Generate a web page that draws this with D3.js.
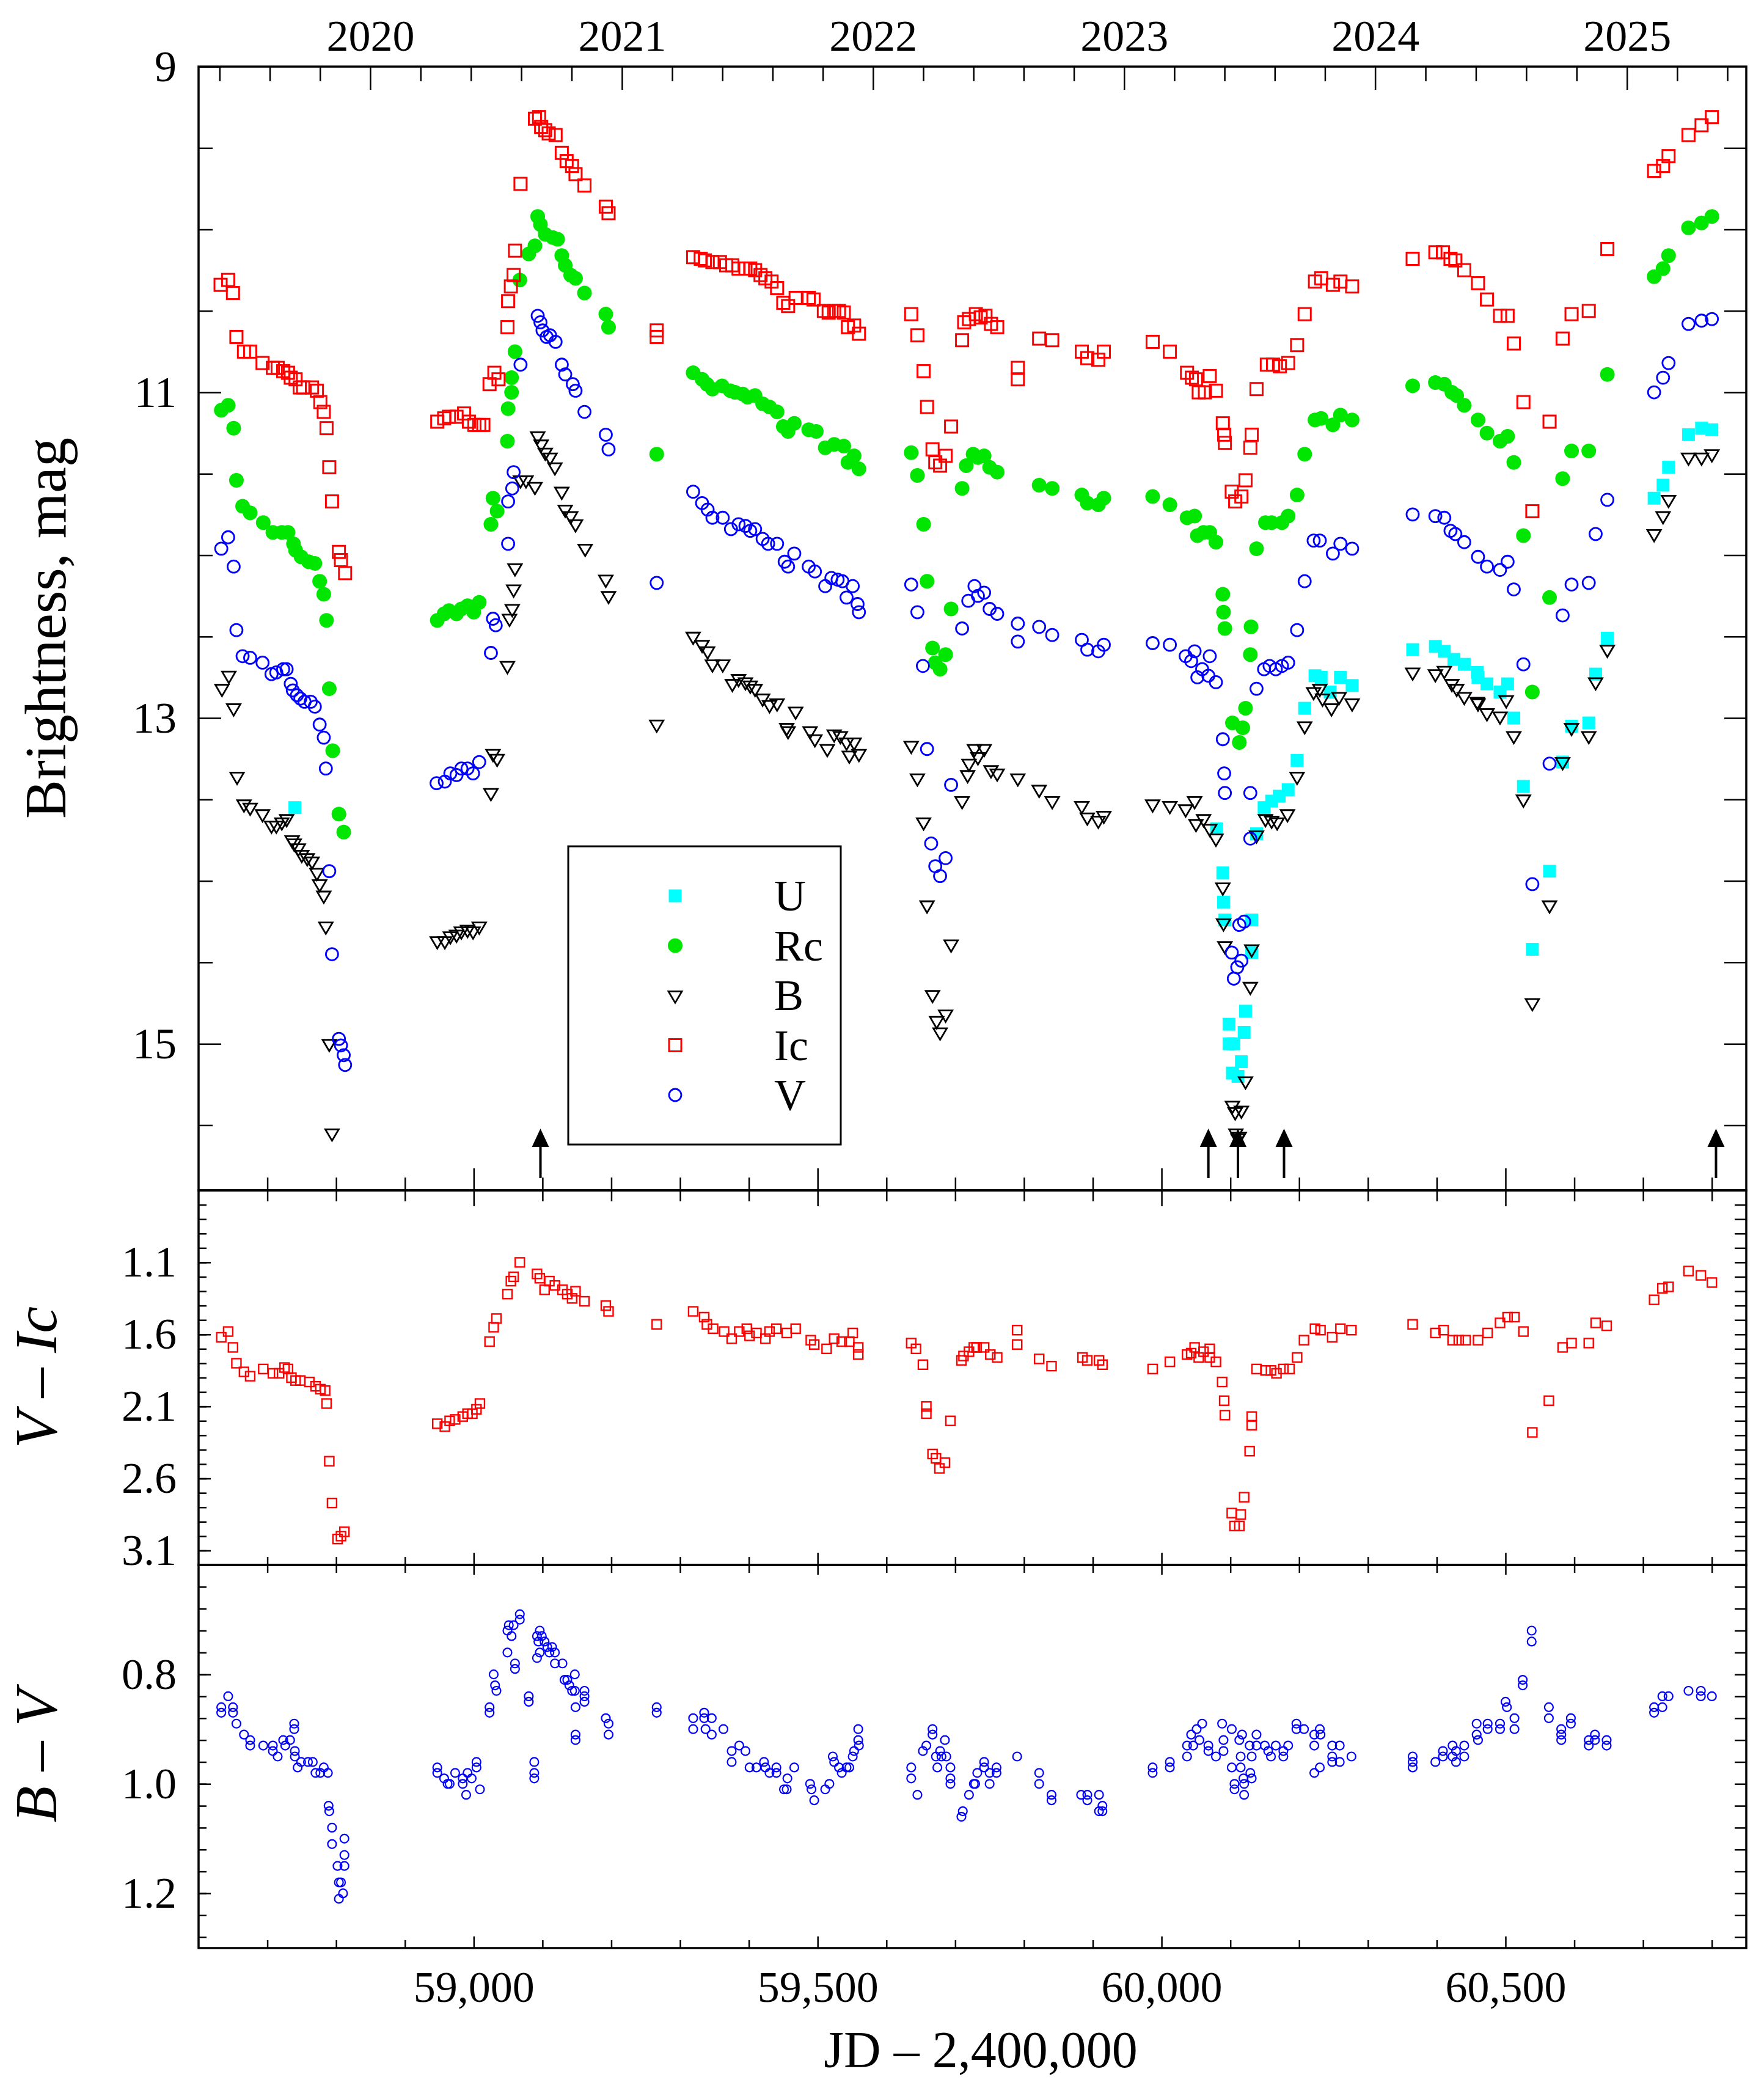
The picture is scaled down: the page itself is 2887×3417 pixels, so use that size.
<!DOCTYPE html>
<html>
<head>
<meta charset="utf-8">
<script src="https://cdn.jsdelivr.net/npm/d3@7"></script>
<style>
  body { margin: 0; background: #fff; }
</style>
</head>
<body>
<div id="main"></div>
<script>
/// photometry, JD - 2400000 and magnitude ///
const bandU = [[58740,13.55],
  [60080,13.68],[60089,13.95],[60090,14.13],[60092,14.24],[60098,14.88],[60098,15.00],[60103,15.18],[60105,15.00],[60111,15.20],[60116,15.11],[60120,14.93],[60122,14.80],[60131,14.24],[60131,14.44],[60138,13.71],[60149,13.55],[60160,13.51],[60171,13.48],[60184,13.44],[60197,13.26],[60208,12.94],[60223,12.74],[60232,12.75],[60245,12.84],[60260,12.75],[60277,12.80],
  [60365,12.58],[60398,12.56],[60411,12.59],[60425,12.64],[60440,12.67],[60459,12.72],[60460,12.75],[60473,12.79],[60492,12.84],[60503,12.79],[60512,13.00],[60526,13.42],[60539,14.42],[60564,13.94],[60583,13.27],[60596,13.05],[60621,13.03],[60631,12.73],[60648,12.51],[60716,11.65],[60729,11.57],[60737,11.46],[60766,11.26],[60785,11.22],[60800,11.23]];

const bandRc = [[58633,11.11],[58643,11.08],[58651,11.22],[58655,11.54],[58664,11.70],[58675,11.74],[58694,11.80],[58708,11.86],[58721,11.86],[58730,11.86],[58738,11.93],[58741,11.97],[58749,12.01],[58760,12.04],[58769,12.05],[58776,12.16],[58782,12.24],[58786,12.40],[58790,12.82],[58795,13.20],[58804,13.59],[58811,13.70],
  [58947,12.40],[58957,12.36],[58964,12.34],[58975,12.36],[58982,12.33],[58991,12.31],[59000,12.35],[59008,12.29],
  [59025,11.81],[59028,11.65],[59034,11.73],[59049,11.30],[59050,11.10],[59055,11.00],[59055,10.91],[59060,10.75],[59067,10.31],[59080,10.15],[59089,10.10],
  [59093,9.92],[59097,9.97],[59104,10.03],[59115,10.05],[59122,10.06],[59128,10.16],[59133,10.22],[59141,10.28],[59148,10.30],[59161,10.39],[59192,10.52],[59196,10.60],
  [59266,11.38],
  [59319,10.88],[59332,10.92],[59339,10.95],[59347,10.98],[59361,10.96],[59373,10.99],[59380,11.00],[59391,11.01],[59398,11.03],[59409,11.02],[59420,11.07],[59430,11.09],[59441,11.12],[59450,11.21],[59457,11.24],[59466,11.19],[59487,11.23],[59498,11.24],[59511,11.34],[59524,11.32],[59538,11.33],[59544,11.43],[59553,11.39],[59560,11.47],
  [59636,11.37],[59645,11.51],[59654,11.81],[59659,12.16],[59667,12.57],[59671,12.66],[59678,12.70],[59686,12.61],[59694,12.33],[59710,11.59],[59716,11.45],[59726,11.38],[59733,11.40],[59742,11.39],[59750,11.46],[59761,11.49],
  [59822,11.57],[59841,11.59],[59884,11.63],[59892,11.68],[59908,11.69],[59916,11.65],
  [59987,11.64],[60012,11.69],[60037,11.77],[60048,11.76],[60052,11.88],[60061,11.86],[60070,11.86],[60079,11.92],[60089,12.24],[60090,12.35],[60092,12.45],[60103,13.03],[60113,13.15],[60118,13.06],[60122,12.94],[60129,12.61],[60130,12.44],[60138,11.96],[60151,11.80],[60160,11.80],[60175,11.80],[60184,11.76],[60197,11.63],[60208,11.38],[60223,11.17],[60232,11.16],[60249,11.20],[60260,11.14],[60277,11.17],
  [60365,10.96],[60398,10.94],[60411,10.95],[60422,11.00],[60429,11.02],[60440,11.08],[60460,11.17],[60473,11.25],[60492,11.30],[60503,11.27],[60512,11.43],[60526,11.88],[60539,12.84],[60564,12.26],[60583,11.53],[60596,11.36],[60621,11.36],[60648,10.89],[60716,10.29],[60729,10.24],[60737,10.16],[60766,9.99],[60785,9.96],[60800,9.92]];

const bandB = [[58634,12.82],[58644,12.74],[58651,12.94],[58656,13.36],[58666,13.53],[58675,13.55],[58693,13.59],[58706,13.66],[58713,13.66],[58721,13.64],[58728,13.62],[58736,13.75],[58739,13.77],[58745,13.80],[58750,13.84],[58758,13.86],[58765,13.88],[58772,13.95],[58776,14.02],[58782,14.09],[58785,14.28],[58790,15.00],[58794,15.55],
  [58947,14.37],[58958,14.37],[58966,14.34],[58975,14.33],[58982,14.31],[58991,14.30],[58999,14.31],[59008,14.28],
  [59025,13.46],[59028,13.22],[59034,13.25],[59049,12.68],[59052,12.39],[59056,12.33],[59058,12.21],[59060,12.08],[59068,11.54],[59076,11.54],[59089,11.58],
  [59093,11.27],[59098,11.32],[59104,11.37],[59111,11.40],[59118,11.46],[59128,11.61],[59133,11.72],[59141,11.76],[59148,11.81],[59162,11.96],[59192,12.15],[59196,12.25],
  [59266,13.04],
  [59319,12.50],[59332,12.55],[59340,12.59],[59347,12.67],[59362,12.67],[59376,12.79],[59385,12.76],[59395,12.78],[59402,12.80],[59409,12.82],[59420,12.88],[59430,12.92],[59441,12.91],[59455,13.06],[59457,13.08],[59468,12.96],[59489,13.08],[59496,13.13],[59514,13.19],[59524,13.10],[59533,13.11],[59542,13.15],[59546,13.23],[59553,13.15],[59560,13.22],
  [59636,13.17],[59645,13.37],[59654,13.64],[59659,14.15],[59667,14.70],[59673,14.86],[59678,14.93],[59686,14.82],[59694,14.39],[59710,13.51],[59718,13.35],[59720,13.28],[59728,13.19],[59733,13.24],[59742,13.19],[59752,13.32],[59761,13.34],
  [59791,13.37],[59822,13.44],[59841,13.51],[59884,13.54],[59892,13.61],[59908,13.63],[59916,13.60],
  [59987,13.53],[60012,13.54],[60035,13.56],[60048,13.51],[60050,13.65],[60061,13.62],[60070,13.68],[60079,13.74],[60089,14.04],[60090,14.26],[60092,14.40],[60103,15.38],[60107,15.42],[60108,15.55],[60111,15.58],[60113,15.57],[60116,15.41],[60122,15.23],[60129,14.65],[60131,14.42],[60138,13.72],[60151,13.62],[60160,13.63],[60168,13.64],[60183,13.59],[60197,13.36],[60208,13.05],[60221,12.84],[60230,12.82],[60234,12.88],[60247,12.94],[60258,12.87],[60277,12.91],
  [60365,12.72],[60398,12.73],[60411,12.71],[60422,12.79],[60429,12.82],[60440,12.87],[60459,12.90],[60460,12.91],[60473,12.97],[60492,12.99],[60501,12.89],[60512,13.11],[60526,13.50],[60539,14.75],[60564,14.15],[60583,13.27],[60596,13.06],[60621,13.11],[60631,12.78],[60648,12.58],[60716,11.87],[60729,11.76],[60737,11.66],[60766,11.40],[60785,11.40],[60800,11.38]];

const bandIc = [[58632,10.34],[58643,10.31],[58650,10.39],[58655,10.66],[58666,10.75],[58675,10.75],[58693,10.82],[58708,10.85],[58715,10.85],[58723,10.87],[58730,10.88],[58734,10.91],[58741,10.92],[58747,10.97],[58752,10.97],[58765,10.97],[58772,10.99],[58777,11.06],[58782,11.12],[58786,11.22],[58790,11.46],[58794,11.67],[58804,11.98],[58807,12.03],[58813,12.11],
  [58947,11.18],[58957,11.16],[58964,11.15],[58975,11.15],[58986,11.13],[58993,11.18],[59001,11.20],[59008,11.20],[59014,11.20],
  [59023,10.95],[59030,10.88],[59036,10.92],[59049,10.60],[59050,10.44],[59054,10.35],[59058,10.28],[59060,10.13],[59068,9.72],
  [59089,9.32],[59095,9.31],[59098,9.37],[59104,9.39],[59109,9.41],[59119,9.42],[59128,9.53],[59135,9.58],[59143,9.61],[59148,9.66],[59161,9.73],[59192,9.86],[59196,9.90],
  [59266,10.62],[59266,10.66],
  [59319,10.17],[59330,10.18],[59336,10.19],[59347,10.20],[59358,10.20],[59367,10.22],[59376,10.22],[59385,10.24],[59395,10.24],[59402,10.24],[59409,10.25],[59417,10.28],[59424,10.30],[59433,10.32],[59441,10.36],[59450,10.45],[59457,10.47],[59468,10.42],[59487,10.42],[59494,10.43],[59509,10.50],[59516,10.51],[59524,10.50],[59531,10.50],[59538,10.51],[59544,10.60],[59553,10.59],[59560,10.64],
  [59636,10.52],[59645,10.65],[59654,10.87],[59659,11.09],[59667,11.35],[59671,11.43],[59678,11.45],[59686,11.39],[59694,11.21],[59710,10.68],[59713,10.57],[59720,10.55],[59730,10.52],[59737,10.54],[59744,10.53],[59752,10.58],[59761,10.60],
  [59791,10.85],[59791,10.92],[59822,10.67],[59841,10.68],[59884,10.75],[59892,10.79],[59908,10.80],[59916,10.75],
  [59987,10.69],[60012,10.75],[60037,10.88],[60044,10.91],[60050,10.92],[60054,11.00],[60063,11.00],[60070,10.90],[60079,10.99],[60089,11.19],[60091,11.26],[60092,11.31],[60102,11.61],[60107,11.67],[60116,11.64],[60122,11.54],[60129,11.34],[60131,11.26],[60138,10.98],[60153,10.83],[60162,10.83],[60172,10.84],[60184,10.82],[60197,10.71],[60208,10.52],[60223,10.32],[60232,10.30],[60249,10.34],[60260,10.32],[60277,10.35],
  [60365,10.18],[60398,10.14],[60409,10.14],[60420,10.18],[60427,10.19],[60440,10.25],[60460,10.33],[60473,10.43],[60492,10.53],[60503,10.53],[60512,10.70],[60526,11.06],[60539,11.73],[60564,11.18],[60583,10.67],[60596,10.52],[60621,10.50],[60648,10.12],[60716,9.64],[60729,9.61],[60737,9.55],[60766,9.42],[60785,9.36],[60800,9.31]];

const bandV = [[58633,11.96],[58643,11.89],[58651,12.07],[58655,12.46],[58664,12.62],[58675,12.63],[58693,12.66],[58706,12.73],[58713,12.72],[58723,12.70],[58728,12.70],[58734,12.79],[58737,12.83],[58743,12.86],[58748,12.88],[58754,12.90],[58763,12.90],[58769,12.93],[58776,13.04],[58782,13.12],[58785,13.31],[58790,13.94],[58794,14.45],[58804,14.97],[58807,15.01],[58811,15.07],[58813,15.13],
  [58946,13.40],[58958,13.39],[58966,13.34],[58975,13.35],[58982,13.31],[58991,13.31],[58999,13.34],[59008,13.27],
  [59025,12.60],[59028,12.39],[59032,12.43],[59050,11.93],[59050,11.67],[59056,11.59],[59058,11.49],[59068,10.83],
  [59093,10.53],[59097,10.57],[59100,10.62],[59106,10.66],[59111,10.65],[59119,10.69],[59128,10.83],[59133,10.89],[59144,10.95],[59148,10.99],[59161,11.12],[59192,11.26],[59196,11.35],
  [59266,12.17],
  [59319,11.61],[59332,11.68],[59340,11.72],[59347,11.77],[59362,11.77],[59374,11.84],[59385,11.81],[59395,11.82],[59402,11.85],[59409,11.84],[59420,11.90],[59428,11.93],[59441,11.93],[59452,12.04],[59457,12.07],[59466,11.99],[59487,12.07],[59496,12.10],[59511,12.19],[59520,12.14],[59529,12.15],[59536,12.16],[59542,12.26],[59551,12.19],[59558,12.30],[59560,12.35],
  [59636,12.18],[59645,12.35],[59653,12.68],[59659,13.19],[59665,13.77],[59671,13.91],[59678,13.97],[59686,13.86],[59694,13.41],[59710,12.45],[59719,12.28],[59728,12.19],[59733,12.25],[59742,12.23],[59750,12.33],[59761,12.36],
  [59791,12.42],[59791,12.53],[59822,12.44],[59841,12.49],[59884,12.52],[59892,12.58],[59908,12.59],[59916,12.55],
  [59987,12.54],[60012,12.55],[60035,12.62],[60043,12.65],[60048,12.59],[60052,12.75],[60059,12.70],[60068,12.74],[60070,12.62],[60079,12.78],[60089,13.13],[60091,13.34],[60092,13.46],[60102,14.44],[60105,14.60],[60110,14.53],[60113,14.27],[60116,14.49],[60120,14.25],[60129,13.46],[60129,13.74],[60138,12.82],[60149,12.70],[60157,12.68],[60166,12.70],[60175,12.68],[60184,12.66],[60197,12.46],[60208,12.16],[60221,11.91],[60230,11.91],[60249,11.99],[60260,11.93],[60277,11.96],
  [60365,11.75],[60398,11.76],[60411,11.77],[60420,11.85],[60427,11.87],[60440,11.92],[60460,12.01],[60473,12.07],[60492,12.09],[60503,12.04],[60512,12.21],[60526,12.67],[60539,14.02],[60564,13.28],[60583,12.37],[60596,12.18],[60621,12.17],[60631,11.87],[60648,11.66],[60716,11.00],[60729,10.91],[60737,10.82],[60766,10.58],[60785,10.56],[60800,10.55]];

/// colour indices ///
const colorVI = [[58633,1.62],[58643,1.58],[58650,1.69],[58655,1.80],[58666,1.86],[58675,1.89],[58694,1.84],[58708,1.87],[58717,1.87],[58725,1.83],[58730,1.84],[58735,1.90],[58741,1.92],[58748,1.92],[58761,1.93],[58770,1.96],[58777,1.98],[58784,1.99],[58786,2.08],[58790,2.48],[58794,2.77],[58802,3.02],[58807,3.00],[58812,2.97],
  [58947,2.22],[58958,2.24],[58965,2.20],[58973,2.19],[58984,2.17],[58991,2.15],[58998,2.15],[59004,2.12],[59009,2.08],
  [59023,1.65],[59029,1.55],[59033,1.49],[59049,1.32],[59054,1.23],[59058,1.20],[59067,1.10],
  [59092,1.18],[59096,1.21],[59103,1.29],[59110,1.23],[59118,1.26],[59129,1.29],[59136,1.32],[59143,1.35],[59148,1.30],[59161,1.37],[59192,1.40],[59196,1.44],
  [59266,1.53],
  [59319,1.44],[59335,1.48],[59339,1.53],[59348,1.56],[59364,1.58],[59375,1.63],[59386,1.58],[59397,1.56],[59401,1.61],[59411,1.59],[59424,1.63],[59430,1.58],[59440,1.56],[59455,1.59],[59468,1.56],[59490,1.64],[59495,1.67],[59513,1.70],[59524,1.63],[59535,1.65],[59546,1.65],[59551,1.59],[59559,1.69],[59559,1.74],
  [59636,1.66],[59643,1.70],[59653,1.81],[59658,2.10],[59658,2.15],[59667,2.43],[59672,2.46],[59677,2.53],[59685,2.49],[59693,2.20],[59709,1.78],[59712,1.75],[59720,1.72],[59727,1.69],[59731,1.69],[59742,1.69],[59751,1.74],[59761,1.76],
  [59790,1.57],[59790,1.67],[59822,1.77],[59840,1.82],[59885,1.76],[59892,1.78],[59909,1.78],[59914,1.81],
  [59987,1.84],[60012,1.79],[60037,1.74],[60043,1.73],[60048,1.69],[60054,1.76],[60061,1.72],[60070,1.70],[60070,1.76],[60079,1.79],[60088,1.93],[60091,2.06],[60092,2.16],[60102,2.84],[60106,2.93],[60113,2.93],[60115,2.85],[60120,2.73],[60128,2.41],[60131,2.23],[60131,2.17],[60138,1.84],[60151,1.85],[60159,1.85],[60167,1.87],[60177,1.84],[60186,1.84],[60197,1.76],[60207,1.64],[60223,1.56],[60231,1.57],[60248,1.62],[60260,1.56],[60276,1.57],
  [60365,1.53],[60398,1.59],[60410,1.57],[60423,1.64],[60432,1.64],[60442,1.64],[60460,1.64],[60474,1.59],[60492,1.52],[60503,1.48],[60513,1.48],[60526,1.58],[60539,2.28],[60563,2.06],[60583,1.69],[60596,1.66],[60621,1.66],[60631,1.52],[60647,1.54],[60716,1.36],[60728,1.28],[60737,1.27],[60766,1.16],[60784,1.19],[60800,1.24]];

const colorBV = [[58633,0.86],[58633,0.87],[58643,0.84],[58650,0.86],[58650,0.87],[58655,0.89],[58666,0.91],[58675,0.92],[58675,0.93],[58694,0.93],[58708,0.93],[58708,0.94],[58715,0.95],[58723,0.92],[58726,0.93],[58733,0.92],[58739,0.89],[58739,0.90],[58740,0.94],[58740,0.95],[58744,0.97],[58749,0.96],[58759,0.96],[58766,0.96],[58770,0.98],[58777,0.98],[58782,0.97],[58788,0.98],[58789,1.04],[58790,1.05],[58794,1.08],[58794,1.11],[58802,1.15],[58804,1.18],[58804,1.21],[58807,1.18],[58810,1.20],[58812,1.15],[58812,1.13],[58812,1.10],
  [58947,0.97],[58947,0.98],[58957,0.99],[58962,1.00],[58965,1.00],[58973,0.98],[58984,0.99],[58984,1.00],[58989,1.02],[58991,0.98],[58997,0.99],[59004,0.96],[59004,0.97],[59009,1.01],
  [59023,0.86],[59023,0.87],[59029,0.80],[59031,0.82],[59033,0.83],[59049,0.76],[59049,0.72],[59051,0.71],[59055,0.73],[59058,0.71],[59060,0.78],[59060,0.79],[59067,0.69],[59067,0.70],
  [59080,0.84],[59080,0.85],[59088,0.96],[59088,0.98],[59088,0.99],
  [59092,0.73],[59094,0.74],[59096,0.72],[59099,0.73],[59092,0.77],[59096,0.76],[59103,0.74],[59107,0.75],[59110,0.76],[59114,0.75],[59118,0.78],[59118,0.76],[59129,0.78],[59132,0.81],[59136,0.81],[59139,0.82],[59143,0.83],[59147,0.83],[59147,0.80],[59148,0.86],[59148,0.91],[59148,0.92],[59161,0.83],[59161,0.84],[59161,0.85],[59192,0.88],[59196,0.89],[59196,0.91],
  [59266,0.86],[59266,0.87],
  [59319,0.88],[59319,0.90],[59335,0.87],[59335,0.88],[59337,0.90],[59346,0.88],[59346,0.91],[59363,0.90],[59375,0.94],[59375,0.96],[59386,0.93],[59395,0.94],[59401,0.97],[59411,0.97],[59422,0.96],[59424,0.97],[59430,0.98],[59440,0.97],[59440,0.98],[59451,1.01],[59455,1.01],[59456,0.99],[59466,0.97],[59489,1.00],[59491,1.01],[59495,1.03],[59511,1.01],[59517,1.00],[59522,0.95],[59524,0.96],[59531,0.97],[59535,0.98],[59542,0.97],[59546,0.97],[59551,0.95],[59553,0.94],[59559,0.90],[59559,0.92],[59560,0.93],
  [59636,0.97],[59636,0.99],[59645,1.02],[59653,0.94],[59658,0.93],[59667,0.90],[59667,0.91],[59672,0.95],[59674,0.97],[59678,0.94],[59680,0.95],[59685,0.92],[59687,0.95],[59693,0.97],[59693,0.99],[59693,1.00],[59709,1.06],[59711,1.05],[59720,1.02],[59727,1.00],[59729,1.00],[59732,0.98],[59742,0.96],[59742,0.97],[59750,0.98],[59750,1.00],[59760,0.97],[59760,0.98],
  [59790,0.95],[59822,0.98],[59822,1.00],[59840,1.02],[59840,1.03],[59883,1.02],[59892,1.02],[59892,1.03],[59909,1.02],[59909,1.05],[59914,1.04],[59914,1.05],
  [59987,0.97],[59987,0.98],[60012,0.96],[60012,0.97],[60037,0.95],[60037,0.93],[60043,0.91],[60046,0.93],[60051,0.90],[60055,0.92],[60059,0.89],[60068,0.93],[60068,0.94],[60079,0.95],[60088,0.89],[60090,0.92],[60090,0.94],[60102,0.90],[60102,0.97],[60106,1.00],[60106,1.01],[60113,0.92],[60115,0.95],[60115,0.97],[60117,0.91],[60119,0.99],[60120,1.00],[60120,1.02],[60128,0.93],[60129,0.98],[60131,0.95],[60131,0.99],[60138,0.91],[60138,0.93],[60150,0.93],[60155,0.94],[60159,0.95],[60166,0.93],[60177,0.94],[60177,0.95],[60184,0.93],[60196,0.89],[60196,0.90],[60207,0.90],[60222,0.91],[60222,0.93],[60222,0.98],[60230,0.97],[60230,0.90],[60231,0.91],[60248,0.93],[60248,0.95],[60248,0.96],[60259,0.93],[60259,0.96],[60276,0.95],
  [60365,0.95],[60365,0.96],[60365,0.97],[60398,0.96],[60409,0.94],[60409,0.95],[60423,0.93],[60423,0.95],[60428,0.94],[60428,0.96],[60440,0.93],[60440,0.95],[60458,0.89],[60458,0.91],[60460,0.92],[60474,0.89],[60474,0.90],[60492,0.89],[60492,0.90],[60500,0.85],[60502,0.86],[60513,0.88],[60513,0.90],[60525,0.81],[60525,0.82],[60538,0.72],[60538,0.74],[60563,0.86],[60563,0.88],[60581,0.90],[60581,0.91],[60581,0.92],[60595,0.88],[60595,0.89],[60621,0.92],[60621,0.93],[60630,0.91],[60630,0.92],[60647,0.92],[60647,0.93],[60716,0.86],[60716,0.87],[60728,0.84],[60728,0.86],[60737,0.84],[60766,0.83],[60784,0.83],[60784,0.84],[60800,0.84]];

// epochs marked with arrows
const arrowsJD = [59097, 60068, 60111, 60178, 60806];

/// tick labels ///
const yearLabels = [2020, 2021, 2022, 2023, 2024, 2025];
const jdTicks = [59000, 59500, 60000, 60500];
const magTicks = [9, 11, 13, 15];
const viTicks = [1.1, 1.6, 2.1, 2.6, 3.1];
const bvTicks = [0.8, 1.0, 1.2];
const legendBands = ['U', 'Rc', 'B', 'Ic', 'V'];

const font = '"Liberation Serif", "Times New Roman", serif';
const w = 2887, h = 3417;
const left = 325, right = 2858;

const svg = d3.select('#main')
    .append('svg')
    .attr('width', w)
    .attr('height', h)
    .style('display', 'block');

svg.append('rect').attr('width', w).attr('height', h).attr('fill', '#fff');

// scales: one x for all three panels
const x = d3.scaleLinear().domain([58600, 60850]).range([left, right]);
const y1 = d3.scaleLinear().domain([9, 15.9]).range([109, 1948]);
const y2 = d3.scaleLinear().domain([0.6, 3.2]).range([1948, 2561]);
const y3 = d3.scaleLinear().domain([0.6, 1.3]).range([2561, 3188]);

// JD - 2400000 of a calendar year fraction
function jdOfYear(yf) {
    let y = Math.floor(yf);
    let a = Date.UTC(y, 0, 1) / 864e5 + 40587.5;
    let b = Date.UTC(y + 1, 0, 1) / 864e5 + 40587.5;
    return a + (yf - y) * (b - a);
}

/// axes ///
function drawAxis(axis, tx, ty) {
    let g = svg.append('g')
        .attr('transform', `translate(${tx},${ty})`)
        .call(axis);
    g.attr('font-family', font).attr('font-size', 72);
    g.select('.domain').remove();
    g.selectAll('line').attr('stroke', '#000').attr('stroke-width', 2.5);
    g.selectAll('text').attr('fill', '#000');
    return g;
}

const jdMinor = d3.range(58700, 60850, 100).filter(d => d % 500 !== 0);
const yearMinor = [];
for (let y = 2019; y <= 2025; y++) {
    [0.2, 0.4, 0.6, 0.8].forEach(f => {
        let v = jdOfYear(y + f);
        if (v > 58600 && v < 60850) yearMinor.push(v);
    });
}

// top: calendar years
drawAxis(d3.axisTop(x).tickValues(yearLabels.map(jdOfYear)).tickSize(-38).tickPadding(26)
    .tickFormat((d, i) => yearLabels[i]), 0, 109);
drawAxis(d3.axisTop(x).tickValues(yearMinor).tickSize(-24).tickFormat(''), 0, 109);

// brightness panel
drawAxis(d3.axisLeft(y1).tickValues(magTicks).tickSize(-37).tickPadding(36).tickFormat(d3.format('d')), left, 0);
drawAxis(d3.axisLeft(y1).tickValues(d3.range(9.5, 15.9, 0.5).filter(d => d % 2 !== 1)).tickSize(-23).tickFormat(''), left, 0);
drawAxis(d3.axisRight(y1).tickValues(d3.range(9.5, 15.9, 0.5)).tickSize(-36).tickFormat(''), right, 0);
drawAxis(d3.axisBottom(x).tickValues(jdTicks).tickSize(-36).tickFormat(''), 0, 1948);
drawAxis(d3.axisBottom(x).tickValues(jdMinor).tickSize(-21).tickFormat(''), 0, 1948);

// V - Ic panel
drawAxis(d3.axisLeft(y2).tickValues(viTicks).tickSize(-20).tickPadding(36).tickFormat(d3.format('.1f')), left, 0);
drawAxis(d3.axisLeft(y2).tickValues(d3.range(7, 32).map(d => d / 10)).tickSize(-13).tickFormat(''), left, 0);
drawAxis(d3.axisRight(y2).tickValues(d3.range(7, 32).map(d => d / 10)).tickSize(-19).tickFormat(''), right, 0);
drawAxis(d3.axisTop(x).tickValues(jdTicks).tickSize(-26).tickFormat(''), 0, 1948);
drawAxis(d3.axisTop(x).tickValues(jdMinor).tickSize(-18).tickFormat(''), 0, 1948);
drawAxis(d3.axisBottom(x).tickValues(jdTicks).tickSize(-20).tickFormat(''), 0, 2561);
drawAxis(d3.axisBottom(x).tickValues(jdMinor).tickSize(-13).tickFormat(''), 0, 2561);

// B - V panel
drawAxis(d3.axisLeft(y3).tickValues(bvTicks).tickSize(-20).tickPadding(36).tickFormat(d3.format('.1f')), left, 0);
drawAxis(d3.axisLeft(y3).tickValues(d3.range(16, 33).map(d => d * 0.04)).tickSize(-13).tickFormat(''), left, 0);
drawAxis(d3.axisRight(y3).tickValues(d3.range(16, 33).map(d => d * 0.04)).tickSize(-19).tickFormat(''), right, 0);
drawAxis(d3.axisTop(x).tickValues(jdTicks).tickSize(-16).tickFormat(''), 0, 2561);
drawAxis(d3.axisTop(x).tickValues(jdMinor).tickSize(-13).tickFormat(''), 0, 2561);
drawAxis(d3.axisBottom(x).tickValues(jdTicks).tickSize(-19).tickPadding(37).tickFormat(d3.format(',')), 0, 3188);
drawAxis(d3.axisBottom(x).tickValues(jdMinor).tickSize(-13).tickFormat(''), 0, 3188);

/// markers ///
const triDown = s => `M${-s / 2},${-s * 0.3}L${s / 2},${-s * 0.3}L0,${s * 0.55}Z`;

const styles = {
    U:  { shape: 'rect', size: 21, fill: '#00ffff', stroke: 'none', sw: 0 },
    Rc: { shape: 'circle', size: 24, fill: '#00e600', stroke: 'none', sw: 0 },
    B:  { shape: 'tri', size: 22, fill: 'none', stroke: '#000', sw: 2.8 },
    Ic: { shape: 'rect', size: 20, fill: 'none', stroke: '#ff0000', sw: 3 },
    V:  { shape: 'circle', size: 20, fill: 'none', stroke: '#0000ff', sw: 2.8 }
};

function drawMarks(g, data, yScale, st, cx, cy) {
    let sel = g.selectAll(null).data(data).enter();
    let px = d => cx !== undefined ? cx : x(d[0]);
    let py = d => cy !== undefined ? cy : yScale(d[1]);
    let m;
    if (st.shape === 'rect') {
        m = sel.append('rect')
            .attr('x', d => px(d) - st.size / 2)
            .attr('y', d => py(d) - st.size / 2)
            .attr('width', st.size)
            .attr('height', st.size);
    } else if (st.shape === 'circle') {
        m = sel.append('circle')
            .attr('cx', px)
            .attr('cy', py)
            .attr('r', st.size / 2);
    } else {
        m = sel.append('path')
            .attr('d', triDown(st.size))
            .attr('transform', d => `translate(${px(d)},${py(d)})`);
    }
    m.attr('fill', st.fill).attr('stroke', st.stroke).attr('stroke-width', st.sw);
}

const plot = svg.append('g');
drawMarks(plot, bandU, y1, styles.U);
drawMarks(plot, bandRc, y1, styles.Rc);
drawMarks(plot, bandB, y1, styles.B);
drawMarks(plot, bandIc, y1, styles.Ic);
drawMarks(plot, bandV, y1, styles.V);

drawMarks(plot, colorVI, y2, { shape: 'rect', size: 15, fill: 'none', stroke: '#ff0000', sw: 2.4 });
drawMarks(plot, colorBV, y3, { shape: 'circle', size: 14, fill: 'none', stroke: '#0000ff', sw: 2.2 });

// arrows at the foot of the brightness panel
const arrows = svg.append('g');
arrowsJD.forEach(jd => {
    let ax = x(jd);
    arrows.append('line')
        .attr('x1', ax).attr('x2', ax)
        .attr('y1', 1928).attr('y2', 1872)
        .attr('stroke', '#000').attr('stroke-width', 4);
    arrows.append('path')
        .attr('d', `M${ax},1847L${ax + 14},1877L${ax - 14},1877Z`)
        .attr('fill', '#000');
});

/// legend ///
const legend = svg.append('g');
legend.append('rect')
    .attr('x', 930).attr('y', 1385)
    .attr('width', 446).attr('height', 488)
    .attr('fill', '#fff').attr('stroke', '#000').attr('stroke-width', 3);

legendBands.forEach((b, i) => {
    let ly = 1466 + i * 81.5;
    drawMarks(legend, [[0, 0]], null, styles[b], 1105, ly);
    legend.append('text')
        .attr('x', 1267).attr('y', ly)
        .attr('dy', '0.34em')
        .attr('font-family', font).attr('font-size', 72)
        .text(b);
});

/// frames ///
[[109, 1948], [1948, 2561], [2561, 3188]].forEach(p => {
    svg.append('rect')
        .attr('x', left).attr('y', p[0])
        .attr('width', right - left).attr('height', p[1] - p[0])
        .attr('fill', 'none').attr('stroke', '#000').attr('stroke-width', 3.5);
});

/// axis titles ///
svg.append('text')
    .attr('transform', 'translate(107,1028) rotate(-90)')
    .attr('text-anchor', 'middle')
    .attr('font-family', font).attr('font-size', 96)
    .text('Brightness, mag');

svg.append('text')
    .attr('transform', 'translate(92,2254) rotate(-90)')
    .attr('text-anchor', 'middle')
    .attr('font-family', font).attr('font-size', 98)
    .attr('font-style', 'italic')
    .text('V – Ic');

svg.append('text')
    .attr('transform', 'translate(92,2874) rotate(-90)')
    .attr('text-anchor', 'middle')
    .attr('font-family', font).attr('font-size', 98)
    .attr('font-style', 'italic')
    .text('B – V');

svg.append('text')
    .attr('x', 1605).attr('y', 3383)
    .attr('text-anchor', 'middle')
    .attr('font-family', font).attr('font-size', 84)
    .text('JD – 2,400,000');
</script>
</body>
</html>
